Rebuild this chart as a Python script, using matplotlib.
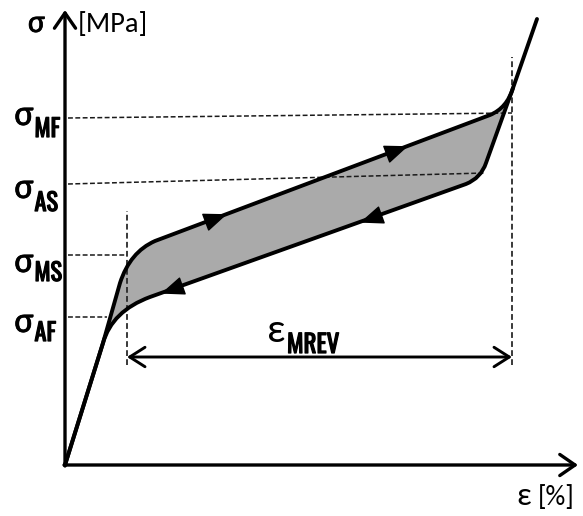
import numpy as np
import matplotlib
matplotlib.use('Agg')
import matplotlib.pyplot as plt
import matplotlib.patheffects as pe
from matplotlib.path import Path
from matplotlib.patches import PathPatch
from matplotlib.markers import MarkerStyle
from matplotlib.transforms import Affine2D
from matplotlib import font_manager

# ---------------- data (schematic units) ----------------
# loading branch (strain, stress) key points
loading_strain = [0.00, 0.76, 1.10, 1.30, 1.80, 8.50, 8.84, 8.96, 9.44]
loading_stress = [0.00, 2.44, 3.64, 4.26, 4.48, 7.00, 7.14, 7.54, 8.92]
# unloading branch key points
unloading_strain = [8.96, 8.42, 8.32, 8.02, 1.70, 0.94, 0.76, 0.00]
unloading_stress = [7.54, 6.04, 5.74, 5.62, 3.36, 3.08, 2.44, 0.00]

# characteristic stress levels (dashed reference lines)
stress_names = ['MF', 'AS', 'MS', 'AF']
stress_at_axis = [6.94, 5.62, 4.20, 2.96]
stress_at_end = [7.04, 5.84, 4.20, 2.96]
stress_line_end_strain = [8.94, 8.40, 1.24, 0.84]

# reversible strain span
eps_mrev_start = 1.24
eps_mrev_end = 8.94

# ---------------- figure ----------------
W, H, DPI = 583, 516, 100
fig = plt.figure(figsize=(W / DPI, H / DPI), dpi=DPI)
ax = fig.add_axes([0, 0, 1, 1])
ax.set_xlim(-65 / 50, (W - 65) / 50)
ax.set_ylim(-(H - 465) / 50, 465 / 50)
ax.set_aspect('equal')
ax.axis('off')

names = {f.name for f in font_manager.fontManager.ttflist}
def pick(cands):
    for c in cands:
        if c in names:
            return c
    return 'DejaVu Sans'
main_font = [pick(['Carlito', 'Open Sans']), 'DejaVu Sans']
narrow = [pick(['Oswald', 'Roboto Condensed', 'Open Sans Condensed']), 'DejaVu Sans']
bold_fx = [pe.withStroke(linewidth=0.9, foreground='black')]
semi_fx = [pe.withStroke(linewidth=0.5, foreground='black')]

L = np.column_stack([loading_strain, loading_stress])
U = np.column_stack([unloading_strain, unloading_stress])
load_codes = [Path.MOVETO, Path.LINETO, Path.LINETO, Path.CURVE3, Path.CURVE3,
              Path.LINETO, Path.CURVE3, Path.CURVE3, Path.LINETO]
unload_codes = [Path.MOVETO, Path.LINETO, Path.CURVE3, Path.CURVE3, Path.LINETO,
                Path.CURVE3, Path.CURVE3, Path.LINETO]

# gray hysteresis area
fill_verts = np.vstack([L[1:8], U[1:7], L[1:2]])
fill_codes = ([Path.MOVETO] + load_codes[2:8] + unload_codes[1:7] + [Path.CLOSEPOLY])
ax.add_patch(PathPatch(Path(fill_verts, fill_codes), facecolor='#aaaaaa',
                       edgecolor='none', zorder=1))

# dashed reference lines
dash = dict(color='#1a1a1a', lw=1.1, ls=(0, (3.2, 1.6)), zorder=2)
for s0, s1, e in zip(stress_at_axis, stress_at_end, stress_line_end_strain):
    ax.plot([0.06, e], [s0, s1], **dash)
vdash = dict(color='#2a2a2a', lw=1.3, ls=(0, (3.2, 1.8)), zorder=2)
ax.plot([eps_mrev_start, eps_mrev_start], [2.0, 5.08], **vdash)
ax.plot([eps_mrev_end, eps_mrev_end], [2.0, 8.16], **vdash)

# curves
ax.add_patch(PathPatch(Path(L, load_codes), facecolor='none', edgecolor='black',
                       lw=2.8, capstyle='round', joinstyle='round', zorder=4))
ax.add_patch(PathPatch(Path(U, unload_codes), facecolor='none', edgecolor='black',
                       lw=2.8, capstyle='round', joinstyle='round', zorder=4))

# direction arrows on straight segments
tri = Path([(1.0, 0.0), (-1.0, 0.8), (-1.0, -0.8), (1.0, 0.0)],
           [Path.MOVETO, Path.LINETO, Path.LINETO, Path.CLOSEPOLY])

def head(p0, p1, frac):
    p0 = np.asarray(p0); p1 = np.asarray(p1)
    p = p0 + frac * (p1 - p0)
    ang = np.degrees(np.arctan2(p1[1] - p0[1], p1[0] - p0[0]))
    m = MarkerStyle(tri, transform=Affine2D().rotate_deg(ang))
    ax.plot([p[0]], [p[1]], marker=m, ms=15, color='black', mec='black', zorder=5)

head(L[4], L[5], 0.18)
head(L[4], L[5], 0.72)
head(U[3], U[4], 0.30)
head(U[3], U[4], 0.93)

# axes arrows
axprops = dict(arrowstyle='->,head_length=0.55,head_width=0.38', lw=2.4, color='black',
               shrinkA=0, shrinkB=0, mutation_scale=20)
ax.annotate('', xy=(10.26, 0), xytext=(-0.02, 0), arrowprops=axprops, zorder=6)
ax.annotate('', xy=(0, 9.1), xytext=(0, -0.02), arrowprops=axprops, zorder=6)

# reversible strain double arrow
dprops = dict(arrowstyle='<->,head_length=0.55,head_width=0.35', lw=2.1, color='black',
              shrinkA=0, shrinkB=0, mutation_scale=20)
ax.annotate('', xy=(eps_mrev_end, 2.16), xytext=(eps_mrev_start, 2.16),
            arrowprops=dprops, zorder=6)

# ---------------- texts ----------------
sig_base = [6.80, 5.34, 3.86, 2.66]
sub_base = [6.56, 5.08, 3.68, 2.48]
for nm, yb, ys in zip(stress_names, sig_base, sub_base):
    ax.text(-0.82, yb, 'σ', family=main_font, fontsize=26, ha='center', va='baseline',
            path_effects=semi_fx)
    ax.text(-0.61, ys, nm, family=narrow, fontsize=17.5, fontweight='bold',
            ha='left', va='baseline', path_effects=bold_fx)

ax.text(-0.57, 8.66, 'σ', family=main_font, fontsize=23, ha='center', va='baseline',
        path_effects=semi_fx)
ax.text(0.26, 8.66, '[MPa]', family=main_font, fontsize=20.5, ha='left', va='baseline')

ax.text(9.17, -0.80, 'ε', family=main_font, fontsize=23, ha='center', va='baseline')
ax.text(9.46, -0.80, '[%]', family=main_font, fontsize=20, ha='left', va='baseline')

ax.text(4.23, 2.46, 'ε', family=main_font, fontsize=29, ha='center', va='baseline')
ax.text(4.44, 2.24, 'MREV', family=narrow, fontsize=18, fontweight='bold',
        ha='left', va='baseline', path_effects=bold_fx)

fig.savefig('out.png', dpi=DPI)
